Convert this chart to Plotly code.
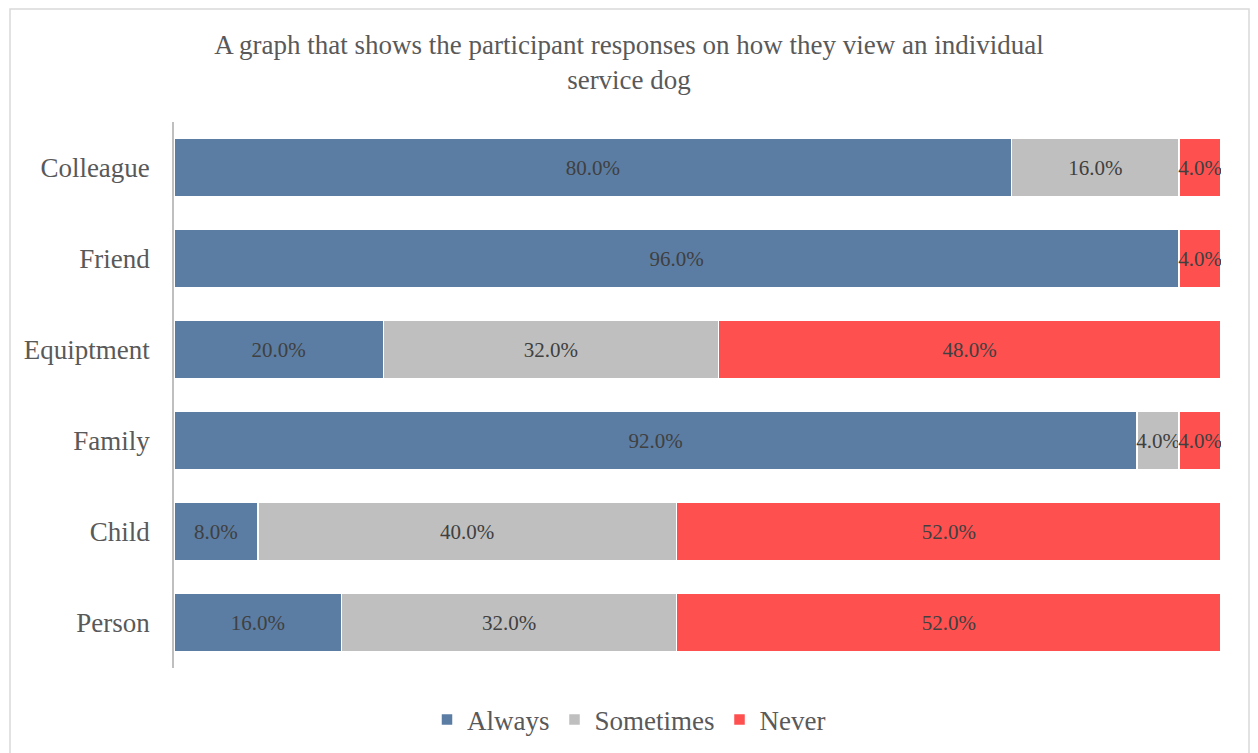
import plotly.graph_objects as go

categories = ["Person", "Child", "Family", "Equiptment", "Friend", "Colleague"]
always = [16, 8, 92, 20, 96, 80]
sometimes = [32, 40, 4, 32, 0, 16]
never = [52, 52, 4, 48, 4, 4]

series = [("Always", always, "#5B7DA3"), ("Sometimes", sometimes, "#BFBFBF"), ("Never", never, "#FF5050")]

FONT = "Liberation Serif"
fig = go.Figure()
for name, vals, col in series:
    fig.add_trace(go.Bar(
        y=categories, x=vals, name=name, orientation="h",
        marker=dict(color=col, line=dict(color="white", width=1.5)),
        text=[f"{v:.1f}%" if v > 0 else "" for v in vals],
        textposition="inside", insidetextanchor="middle", textangle=0,
        constraintext="none",
        textfont=dict(family=FONT, size=21, color="#404040"),
        hoverinfo="skip",
    ))

# page body has an 8px margin; figure coordinates are shifted accordingly
W, H = 1258, 753
L, R, T, B = 166, 45, 114, 93
pw, ph = W - L - R, H - T - B

def px2x(p):
    return (p - L) / pw

def py2y(p):
    return 1 - (p - T) / ph

fig.update_layout(
    width=W, height=H, barmode="stack", bargap=0.36,
    margin=dict(l=L, r=R, t=T, b=B, autoexpand=False),
    paper_bgcolor="white", plot_bgcolor="white",
    font=dict(family=FONT, color="#595959"),
    title=dict(text="A graph that shows the participant responses on how they view an individual<br>service dog",
               x=621 / W, xref="container", xanchor="center",
               y=1 - 46 / H, yref="container", yanchor="middle",
               font=dict(family=FONT, size=27, color="#595959")),
    xaxis=dict(range=[0, 100], visible=False, fixedrange=True),
    yaxis=dict(categoryorder="array", categoryarray=categories, showline=True,
               linecolor="#BFBFBF", linewidth=1.5, showgrid=False, ticks="",
               ticklabelstandoff=17, tickfont=dict(family=FONT, size=27, color="#595959")),
    legend=dict(orientation="h", x=px2x(621), xanchor="center", y=py2y(712), yanchor="middle",
                font=dict(family=FONT, size=27, color="#595959"), traceorder="normal",
                itemwidth=30),
    uniformtext=dict(minsize=21, mode="show"),
    showlegend=True,
)
fig.add_shape(type="rect", xref="paper", yref="paper",
              x0=px2x(2), x1=px2x(1241), y0=py2y(780), y1=py2y(1),
              line=dict(color="#D9D9D9", width=1.5), fillcolor="rgba(0,0,0,0)", layer="below")
fig.write_html("out.html")
